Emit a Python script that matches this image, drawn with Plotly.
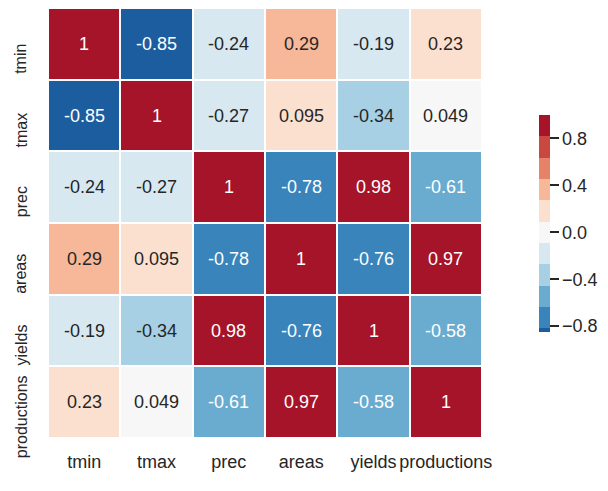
import plotly.graph_objects as go

labels = ["tmin", "tmax", "prec", "areas", "yields", "productions"]
corr = [
    [1.0, -0.85, -0.24, 0.29, -0.19, 0.23],
    [-0.85, 1.0, -0.27, 0.095, -0.34, 0.049],
    [-0.24, -0.27, 1.0, -0.78, 0.98, -0.61],
    [0.29, 0.095, -0.78, 1.0, -0.76, 0.97],
    [-0.19, -0.34, 0.98, -0.76, 1.0, -0.58],
    [0.23, 0.049, -0.61, 0.97, -0.58, 1.0],
]
palette = [
    "rgb(28,93,159)", "rgb(56,132,187)", "rgb(106,172,208)", "rgb(167,208,228)",
    "rgb(215,232,241)", "rgb(247,247,247)", "rgb(252,224,207)", "rgb(247,183,153)",
    "rgb(229,130,103)", "rgb(202,72,66)", "rgb(165,20,41)",
]
cbar_ticks = [-0.8, -0.4, 0.0, 0.4, 0.8]
zmin, zmax, center_range = -0.85, 1.0, 1.0

# stepped colorscale: 11 bins spanning [-1, 1] (centered at 0), cut to [zmin, zmax]
n = len(palette)
bounds = [-center_range + 2 * center_range * i / n for i in range(n + 1)]
cs = []
for i, col in enumerate(palette):
    lo = max(bounds[i], zmin)
    hi = min(bounds[i + 1], zmax)
    if hi <= lo:
        continue
    a = (lo - zmin) / (zmax - zmin)
    b = (hi - zmin) / (zmax - zmin)
    cs.append([a, col])
    cs.append([b, col])
cs[0][0] = 0.0
cs[-1][0] = 1.0

def bin_index(v):
    for i in range(n):
        if v <= bounds[i + 1] + 1e-12:
            return i
    return n - 1

FONT = "Liberation Sans, Arial"
TXT = "#262626"

# plot area in figure pixels
L, T, PW, PH = 40, 0, 434, 430
W, H = 608, 491

fig = go.Figure(go.Heatmap(
    z=corr, x=labels, y=labels, zmin=zmin, zmax=zmax,
    colorscale=cs, xgap=2, ygap=2, hoverinfo="skip",
    colorbar=dict(
        thickness=11, lenmode="pixels", len=217, x=(531 - L) / PW, xanchor="left",
        xpad=0, ypad=0,
        y=(PH - 215.5) / PH, yanchor="middle", outlinewidth=0,
        tickvals=cbar_ticks,
        ticktext=[("\u2212" if t < 0 else "") + f"{abs(t):.1f}" for t in cbar_ticks],
        ticks="outside", ticklen=9, tickwidth=1.5, tickcolor=TXT,
        tickfont=dict(family=FONT, size=18, color=TXT),
    ),
))

annotations = []
for r, row in enumerate(corr):
    for c, v in enumerate(row):
        idx = bin_index(v)
        color = "white" if idx <= 2 or idx >= 9 else TXT
        annotations.append(dict(
            x=labels[c], y=labels[r], text=f"{v:.2g}", showarrow=False,
            font=dict(family=FONT, size=18, color=color),
        ))

# y-axis labels (rotated, sitting slightly below row centres as in the reference)
for lab in labels:
    annotations.append(dict(
        x=(13 - L) / PW, xref="paper", y=lab, yref="y", text=lab, showarrow=False,
        textangle=-90, xanchor="center", yanchor="middle", yshift=-15,
        font=dict(family=FONT, size=16, color=TXT),
    ))

fig.update_layout(
    width=W, height=H,
    margin=dict(l=L, r=W - L - PW, t=T, b=H - T - PH),
    paper_bgcolor="white", plot_bgcolor="white",
    annotations=annotations,
    xaxis=dict(showgrid=False, zeroline=False, ticks="outside", ticklen=7,
               tickcolor="rgba(0,0,0,0)", automargin=False,
               tickfont=dict(family=FONT, size=18, color=TXT)),
    yaxis=dict(showgrid=False, zeroline=False, autorange="reversed",
               showticklabels=False, automargin=False),
)

fig.write_html("out.html")
